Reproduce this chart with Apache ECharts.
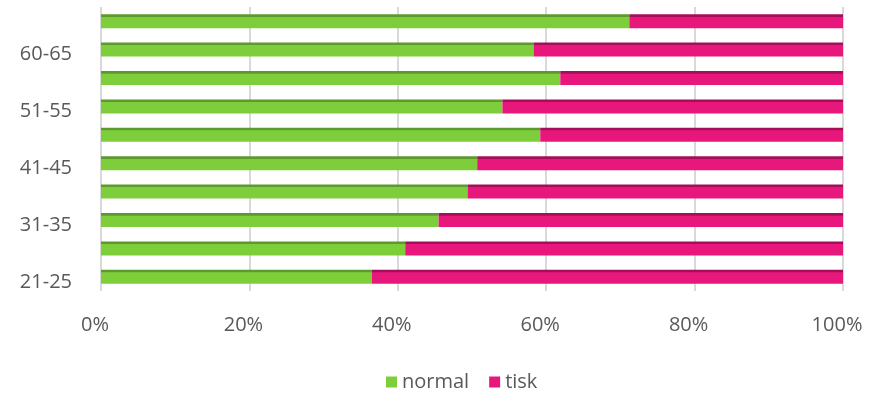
<!DOCTYPE html>
<html lang="en">
<head>
    <meta charset="UTF-8">
    <title>normal / tisk</title>
    <script src="https://cdn.jsdelivr.net/npm/echarts@6/dist/echarts.min.js"></script>
    <style>
        html, body { margin: 0; padding: 0; background: #fff; }
    </style>
</head>
<body>
<div id="main" style="width:885px;height:397px;"></div>
<script>
    // age groups, bottom to top
    var categories = ['21-25', '26-30', '31-35', '36-40', '41-45', '46-50', '51-55', '56-60', '60-65', '66+'];
    var normalVals = [36.5, 41.0, 45.5, 49.4, 50.7, 59.2, 54.1, 61.9, 58.3, 71.2];
    var tiskVals = [63.5, 59.0, 54.5, 50.6, 49.3, 40.8, 45.9, 38.1, 41.7, 28.8];
    var xTicks = [0, 20, 40, 60, 80, 100];

    var font = 'Open Sans';
    var green = '#7ECE3C', pink = '#E8177B';

    function barFill(dark, main) {
        return new echarts.graphic.LinearGradient(0, 0, 0, 1, [
            {offset: 0, color: dark},
            {offset: 0.17, color: dark},
            {offset: 0.2, color: main},
            {offset: 1, color: main}
        ]);
    }

    var chart = echarts.init(document.getElementById('main'));
    var option = {
        animation: false,
        textStyle: {fontFamily: font},
        grid: {left: 101, right: 42, top: 7, bottom: 106},
        legend: {
            bottom: 0,
            left: 381,
            icon: 'rect',
            itemWidth: 11,
            itemHeight: 11,
            itemGap: 20,
            textStyle: {color: '#595959', fontSize: 20, fontFamily: font},
            data: [
                {name: 'normal', itemStyle: {color: green}},
                {name: 'tisk', itemStyle: {color: pink}}
            ]
        },
        xAxis: {
            type: 'value',
            min: xTicks[0],
            max: xTicks[xTicks.length - 1],
            interval: 20,
            axisLine: {show: false},
            axisTick: {show: false},
            splitLine: {lineStyle: {color: '#D9D9D9', width: 2}},
            axisLabel: {
                color: '#595959',
                fontSize: 20,
                margin: 24,
                padding: [0, 12, 0, 0],
                formatter: '{value}%'
            }
        },
        yAxis: {
            type: 'category',
            data: categories,
            axisLine: {show: false},
            axisTick: {show: false},
            axisLabel: {
                interval: 1,
                margin: 29,
                formatter: '{a|{value}}',
                rich: {
                    a: {color: '#595959', fontSize: 20, fontFamily: font, padding: [10, 0, 0, 0]}
                }
            }
        },
        series: [
            {
                name: 'normal',
                type: 'bar',
                stack: 'total',
                barWidth: 14,
                itemStyle: {color: barFill('#5C9A2B', green)},
                data: normalVals
            },
            {
                name: 'tisk',
                type: 'bar',
                stack: 'total',
                barWidth: 14,
                itemStyle: {color: barFill('#A50E58', pink)},
                data: tiskVals
            }
        ]
    };
    chart.setOption(option);
</script>
</body>
</html>
